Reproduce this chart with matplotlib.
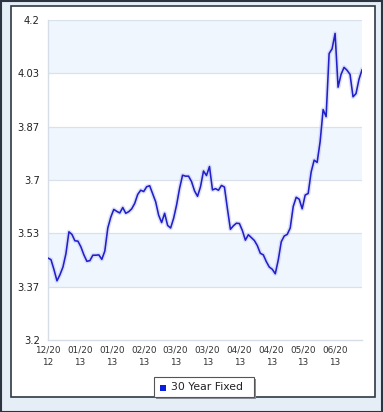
import matplotlib
matplotlib.use('Agg')

import matplotlib.pyplot as plt
import matplotlib.patches as mpatches
import numpy as np

# 30 year fixed rate (roughly daily, Dec 2012 - Jun 2013)
rates = [
    3.456, 3.451, 3.420, 3.385, 3.404, 3.428, 3.470, 3.538, 3.530, 3.510,
    3.509, 3.491, 3.466, 3.446, 3.448, 3.465, 3.465, 3.466, 3.452, 3.478,
    3.550, 3.584, 3.608, 3.602, 3.597, 3.614, 3.596, 3.601, 3.610, 3.627,
    3.655, 3.668, 3.664, 3.679, 3.682, 3.657, 3.632, 3.590, 3.567, 3.596,
    3.558, 3.550, 3.580, 3.622, 3.674, 3.715, 3.712, 3.712, 3.695, 3.666,
    3.649, 3.679, 3.728, 3.714, 3.742, 3.669, 3.673, 3.668, 3.683, 3.678,
    3.610, 3.546, 3.557, 3.565, 3.564, 3.542, 3.512, 3.529, 3.520, 3.511,
    3.495, 3.471, 3.466, 3.445, 3.428, 3.421, 3.407, 3.450, 3.507, 3.525,
    3.530, 3.550, 3.617, 3.646, 3.640, 3.610, 3.653, 3.658, 3.725, 3.762,
    3.755, 3.820, 3.920, 3.898, 4.095, 4.110, 4.158, 3.990, 4.030, 4.052,
    4.043, 4.030, 3.960, 3.970, 4.015, 4.044,
]

x_labels = ["12/20\n12", "01/20\n13", "01/20\n13", "02/20\n13", "03/20\n13",
            "03/20\n13", "04/20\n13", "04/20\n13", "05/20\n13", "06/20\n13"]
y_labels = ["3.2", "3.37", "3.53", "3.7", "3.87", "4.03", "4.2"]
series_name = "30 Year Fixed"

W, H = 383, 412
fig = plt.figure(figsize=(W / 100, H / 100), dpi=100, facecolor="#e5edf6")

# outer dark frame + inner white panel (behind the axes)
fig.patches.append(mpatches.Rectangle((0.5 / W, 0.5 / H), (W - 1.5) / W, (H - 1.5) / H,
                                      transform=fig.transFigure, fill=False,
                                      edgecolor="#2b3440", linewidth=1.5, zorder=-2))
fig.patches.append(mpatches.Rectangle((11 / W, (H - 397) / H), 364 / W, 391 / H,
                                      transform=fig.transFigure, facecolor="white",
                                      edgecolor="#2e3a44", linewidth=1.2, zorder=-1))

ax = fig.add_axes([48 / W, (H - 340) / H, 314 / W, 320 / H])
ax.set_facecolor("white")

x = np.arange(len(rates))
ax.set_xlim(0, len(rates) - 1)
ax.set_ylim(3.2, 4.2)

# alternating bands
yt = np.linspace(3.2, 4.2, 7)
for i in range(len(yt) - 1):
    if i % 2 == 1:
        ax.axhspan(yt[i], yt[i + 1], facecolor="#f0f6fd", zorder=0)
for v in yt[1:]:
    ax.axhline(v, color="#d9e2ec", linewidth=0.9, zorder=1)

# soft glow under the line, then the line
ax.plot(x, rates, color="#c8ccf4", linewidth=3.2, alpha=0.6, zorder=2,
        solid_joinstyle="round")
ax.plot(x, rates, color="#2020c8", linewidth=1.15, zorder=3)

ax.set_yticks(yt)
ax.set_yticklabels(y_labels, fontsize=7.2, color="#222222")
ax.set_xticks(np.linspace(0, 96, 10))
ax.set_xticklabels(x_labels, fontsize=6.4, color="#333333", linespacing=1.5)
ax.tick_params(length=0, pad=4)
ax.tick_params(axis="y", pad=6)

for side in ["top", "right"]:
    ax.spines[side].set_visible(False)
for side in ["left", "bottom"]:
    ax.spines[side].set_color("#d6dde6")
    ax.spines[side].set_linewidth(1.0)

# legend box sitting on the panel bottom
lx, ly, lw, lh = 154, 377, 100, 20
fig.patches.append(mpatches.Rectangle(((lx + 2) / W, (H - ly - lh - 2) / H), lw / W, lh / H,
                                      transform=fig.transFigure, facecolor="#8a9098",
                                      edgecolor="none", zorder=5))
fig.patches.append(mpatches.Rectangle((lx / W, (H - ly - lh) / H), lw / W, lh / H,
                                      transform=fig.transFigure, facecolor="white",
                                      edgecolor="#555555", linewidth=0.8, zorder=6))
fig.patches.append(mpatches.Rectangle(((lx + 6) / W, (H - ly - 13.5) / H), 6 / W, 6 / H,
                                      transform=fig.transFigure, facecolor="#0a1ee0",
                                      edgecolor="none", zorder=7))
fig.text((lx + 17) / W, (H - ly - 10) / H, series_name, fontsize=7.8,
         color="#222222", va="center", ha="left", zorder=8)

plt.savefig("out.png", dpi=100, facecolor=fig.get_facecolor())
plt.close(fig)
